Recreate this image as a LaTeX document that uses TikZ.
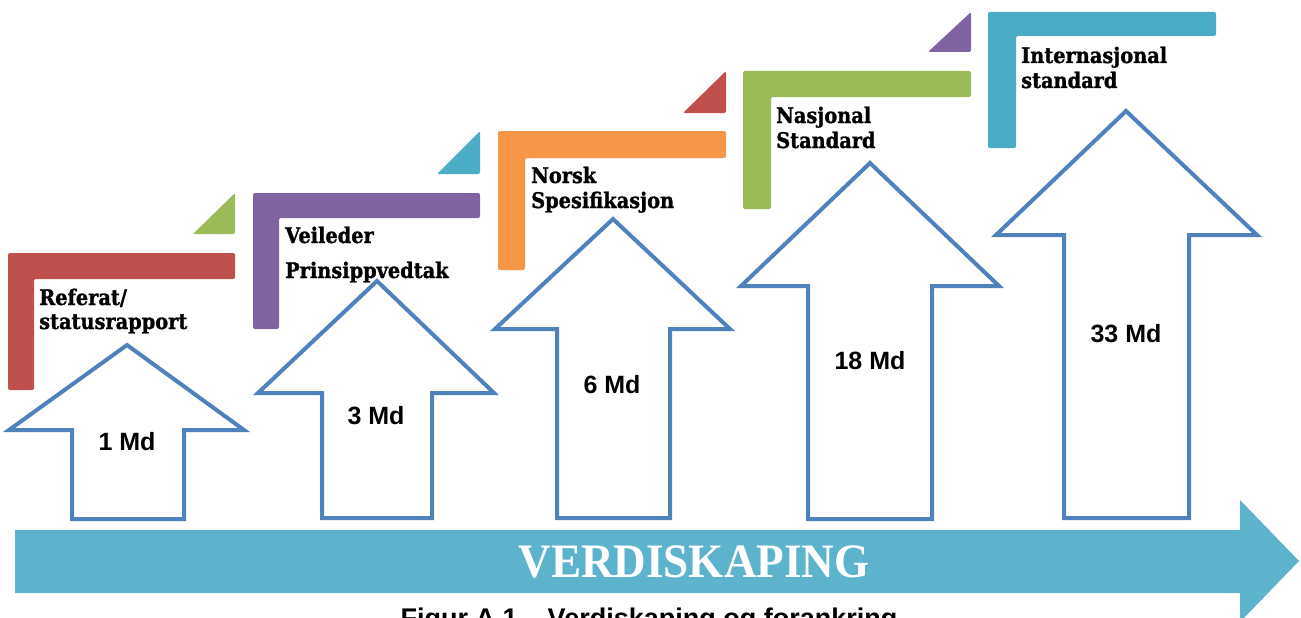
\documentclass[tikz,border=0pt]{standalone}
\usepackage{fontspec}
\newfontfamily\stepfont[FakeStretch=0.9, BoldFont={DejaVu Serif Bold}, BoldFeatures={FakeBold=1.2}]{DejaVu Serif}
\newfontfamily\bigfont[FakeStretch=0.94]{Liberation Serif}
\newfontfamily\capfont{Liberation Sans}
\definecolor{cRed}{HTML}{C0504D}
\definecolor{cPurple}{HTML}{8064A2}
\definecolor{cOrange}{HTML}{F79646}
\definecolor{cGreen}{HTML}{9BBB59}
\definecolor{cTeal}{HTML}{4BACC6}
\definecolor{cBlue}{HTML}{4F81BD}
\definecolor{cBus}{RGB}{94,179,204}
\tikzset{
  stepbar/.style={rounded corners=2pt},
  blockarrow/.style={draw=cBlue, line width=4pt, fill=white, line join=miter},
  steplabel/.style={font=\stepfont\bfseries\fontsize{21.5}{25}\selectfont, anchor=base west, inner sep=0pt},
  mdlabel/.style={font=\capfont\bfseries\fontsize{25}{30}\selectfont, inner sep=0pt},
}
\begin{document}
\begin{tikzpicture}[x=1pt,y=-1pt]
\path[use as bounding box] (0,0) rectangle (1301,618);
\clip (0,0) rectangle (1301,618);

% ---- steps (L shapes) ----
\fill[cRed,stepbar] (8,253) -- (235,253) -- (235,279) -- (34,279) -- (34,390) -- (8,390) -- cycle;
\fill[cPurple,stepbar] (253,193) -- (480,193) -- (480,218) -- (279,218) -- (279,329) -- (253,329) -- cycle;
\fill[cOrange,stepbar] (498,131) -- (726,131) -- (726,158) -- (525,158) -- (525,270) -- (498,270) -- cycle;
\fill[cGreen,stepbar] (743,71) -- (971,71) -- (971,97) -- (771,97) -- (771,209) -- (743,209) -- cycle;
\fill[cTeal,stepbar] (988,12) -- (1216,12) -- (1216,36) -- (1016,36) -- (1016,148) -- (988,148) -- cycle;

% ---- corner triangles ----
\fill[cGreen,stepbar] (193,234) -- (235,234) -- (235,193) -- cycle;
\fill[cTeal,stepbar] (437,174) -- (480,174) -- (480,131) -- cycle;
\fill[cRed,stepbar] (683,113) -- (726,113) -- (726,71) -- cycle;
\fill[cPurple,stepbar] (928,52) -- (971,52) -- (971,12) -- cycle;

% ---- step labels ----
\node[steplabel] (s1a) at (39,305) {Referat/};
\node[steplabel] (s1b) at (39,329) {statusrapport};
\node[steplabel] (s2a) at (285,243) {Veileder};
\node[steplabel] (s2b) at (285,278) {Prinsippvedtak};
\node[steplabel] (s3a) at (531,183) {Norsk};
\node[steplabel] (s3b) at (531,208) {Spesifikasjon};
\node[steplabel] (s4a) at (776,123) {Nasjonal};
\node[steplabel] (s4b) at (776,148) {Standard};
\node[steplabel] (s5a) at (1021,63) {Internasjonal};
\node[steplabel] (s5b) at (1021,88) {standard};

% ---- block arrows ----
\draw[blockarrow] (127,345) -- (244,430) -- (184,430) -- (184,519) -- (72,519) -- (72,430) -- (9,430) -- cycle;
\draw[blockarrow] (377,281) -- (494,393) -- (432,393) -- (432,518) -- (322,518) -- (322,393) -- (258,393) -- cycle;
\draw[blockarrow] (613,219) -- (730,329) -- (670,329) -- (670,518) -- (557,518) -- (557,329) -- (495,329) -- cycle;
\draw[blockarrow] (870,163) -- (999,286) -- (932,286) -- (932,519) -- (808,519) -- (808,286) -- (741,286) -- cycle;
\draw[blockarrow] (1126,111) -- (1257,235) -- (1189,235) -- (1189,518) -- (1064,518) -- (1064,235) -- (996,235) -- cycle;

\node[mdlabel] (m1) at (127,442) {1 Md};
\node[mdlabel] (m2) at (376,416) {3 Md};
\node[mdlabel] (m3) at (612,385) {6 Md};
\node[mdlabel] (m4) at (870,361) {18 Md};
\node[mdlabel] (m5) at (1126,334) {33 Md};

% ---- value arrow ----
\fill[cBus] (15,530) -- (1240,530) -- (1240,500) -- (1299,561) -- (1240,622) -- (1240,593) -- (15,593) -- cycle;
\node[font=\bigfont\bfseries\fontsize{48}{56}\selectfont, text=white, anchor=base, inner sep=0pt] (vs) at (694,577) {VERDISKAPING};

% ---- caption (cut off at the lower edge, as in the reference) ----
\node[font=\capfont\bfseries\fontsize{27}{32}\selectfont, anchor=base, inner sep=0pt] (cap) at (649,627) {Figur A.1 – Verdiskaping og forankring};
\end{tikzpicture}
\end{document}
